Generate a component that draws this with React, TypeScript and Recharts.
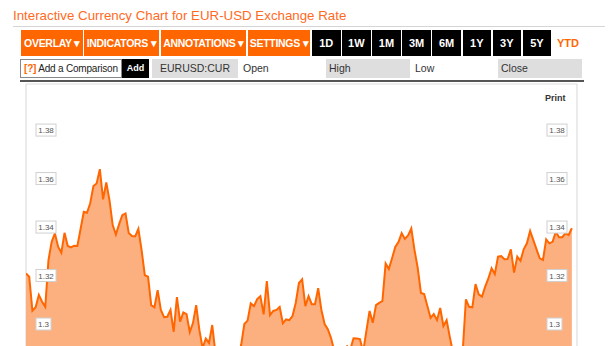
import React from "react";
import { AreaChart, Area, XAxis, YAxis, CartesianGrid, ReferenceLine } from "recharts";

// EUR-USD daily close, YTD (one value per trading day, Jan 1 .. late Aug)
const eurUsd = [
  1.3209, 1.3195, 1.3055, 1.3069, 1.312, 1.3092, 1.3071, 1.3264, 1.3339, 1.3374,
  1.3319, 1.3294, 1.3376, 1.3322, 1.3316, 1.3323, 1.3322, 1.3392, 1.3463, 1.3459,
  1.3498, 1.3569, 1.358, 1.3639, 1.3514, 1.3584, 1.3511, 1.3408, 1.3369, 1.3412,
  1.3449, 1.3456, 1.3375, 1.3363, 1.3361, 1.3392, 1.3305, 1.3202, 1.3195, 1.3078,
  1.3069, 1.314, 1.3058, 1.3028, 1.303, 1.3058, 1.2968, 1.3111, 1.301, 1.3048,
  1.3041, 1.2967, 1.3004, 1.3078, 1.2975, 1.2901, 1.294, 1.2922, 1.2996, 1.288,
  1.2865, 1.285, 1.287, 1.284, 1.282, 1.2845, 1.286, 1.2913, 1.3, 1.3014,
  1.3085, 1.3074, 1.3103, 1.3115, 1.304, 1.3177, 1.3037, 1.3054, 1.3058, 1.307,
  1.3003, 1.3019, 1.3016, 1.3033, 1.3087, 1.3169, 1.3184, 1.3074, 1.3115, 1.3082,
  1.3082, 1.3148, 1.3058, 1.3, 1.2979, 1.2942, 1.289, 1.287, 1.288, 1.2895,
  1.2909, 1.2895, 1.2941, 1.294, 1.2938, 1.2885, 1.2971, 1.3054, 1.3005, 1.3078,
  1.3087, 1.3095, 1.325, 1.3227, 1.3271, 1.3318, 1.3338, 1.3375, 1.3351, 1.3365,
  1.3394, 1.3305, 1.3231, 1.3128, 1.3124, 1.3074, 1.3025, 1.3041, 1.3016, 1.3066,
  1.2992, 1.3016, 1.2946, 1.288, 1.286, 1.287, 1.2885, 1.3102, 1.3071, 1.3069,
  1.3165, 1.3122, 1.3113, 1.3154, 1.3188, 1.323, 1.3206, 1.3278, 1.328, 1.3267,
  1.3268, 1.3308, 1.3212, 1.3278, 1.3261, 1.3308, 1.3333, 1.3384, 1.3346, 1.3308,
  1.3271, 1.3264, 1.3349, 1.3333, 1.3339, 1.3381, 1.3358, 1.3358, 1.3374, 1.3367,
  1.3395,
];

// trading-day index of the first day of Feb..Aug (vertical grid lines)
const monthStarts = [23, 43, 64, 86, 109, 129, 152];
const yTicks = [1.3, 1.32, 1.34, 1.36, 1.38];

const menuButtons = ["OVERLAY", "INDICATORS", "ANNOTATIONS", "SETTINGS"];
const rangeButtons = ["1D", "1W", "1M", "3M", "6M", "1Y", "3Y", "5Y"];
const quoteFields = ["Open", "High", "Low", "Close"];

const rows = eurUsd.map((v, i) => ({ i, v }));

const FONT = '"Liberation Sans", Arial, sans-serif';
const ORANGE = "#ff6600";

// boxed price label, drawn on both sides of the plot
function priceLabel(value: number) {
  const label = String(Number(value.toFixed(2)));
  const w = label.length === 3 ? 15 : 20;
  return (props: any) => {
    const vb = props.viewBox || {};
    const y = vb.y;
    const left = vb.x + 10;
    const right = vb.x + vb.width - 30;
    return (
      <g>
        {[left, right].map((bx) => (
          <g key={bx}>
            <rect x={bx} y={y - 6} width={w} height={12} fill="#fff" stroke="#d0d0d0" strokeWidth={1} />
            <text x={bx + w / 2} y={y + 3} textAnchor="middle" fontSize={8} fill="#555" fontFamily={FONT}>
              {label}
            </text>
          </g>
        ))}
      </g>
    );
  };
}

const menuPos = [
  [21, 62],
  [84, 75],
  [161, 85],
  [248, 62],
];

export default function App() {
  return (
    <div
      style={{
        position: "absolute",
        left: 0,
        top: 0,
        width: 614,
        height: 346,
        overflow: "hidden",
        background: "#fff",
        fontFamily: FONT,
      }}
    >
      <div style={{ position: "absolute", left: 13, top: 8, fontSize: 13.3, color: "#ff6a1f", whiteSpace: "nowrap" }}>
        Interactive Currency Chart for EUR-USD Exchange Rate
      </div>
      <div style={{ position: "absolute", left: 13, top: 26, width: 592, height: 1, background: "#d5d5d5" }} />

      {/* toolbar */}
      {menuButtons.map((b, k) => (
        <div
          key={b}
          style={{
            position: "absolute",
            left: menuPos[k][0],
            top: 30,
            width: menuPos[k][1],
            height: 26,
            lineHeight: "26px",
            background: ORANGE,
            color: "#fff",
            fontWeight: "bold",
            fontSize: 10.5,
            textAlign: "center",
            whiteSpace: "nowrap",
            letterSpacing: -0.3,
          }}
        >
          {b} ▾
        </div>
      ))}
      {rangeButtons.map((b, k) => (
        <div
          key={b}
          style={{
            position: "absolute",
            left: 312 + k * 30.1,
            top: 30,
            width: 28.5,
            height: 26,
            lineHeight: "26px",
            background: "#000",
            color: "#fff",
            fontWeight: "bold",
            fontSize: 11,
            textAlign: "center",
          }}
        >
          {b}
        </div>
      ))}
      <div
        style={{
          position: "absolute",
          left: 557,
          top: 30,
          height: 26,
          lineHeight: "26px",
          color: ORANGE,
          fontWeight: "bold",
          fontSize: 11,
        }}
      >
        YTD
      </div>

      {/* comparison row */}
      <div
        style={{
          position: "absolute",
          left: 20,
          top: 59,
          width: 97,
          height: 17,
          lineHeight: "17px",
          border: "1px solid #888",
          fontSize: 10,
          color: "#222",
          whiteSpace: "nowrap",
          paddingLeft: 3,
          letterSpacing: -0.2,
        }}
      >
        <span style={{ color: ORANGE, fontWeight: "bold" }}>[?]</span> Add a Comparison
      </div>
      <div
        style={{
          position: "absolute",
          left: 122,
          top: 59,
          width: 27,
          height: 19,
          lineHeight: "19px",
          background: "#000",
          color: "#fff",
          fontWeight: "bold",
          fontSize: 9,
          textAlign: "center",
        }}
      >
        Add
      </div>
      <div
        style={{
          position: "absolute",
          left: 152,
          top: 59,
          width: 86,
          height: 19,
          lineHeight: "19px",
          background: "#dedede",
          color: "#333",
          fontSize: 10.5,
          textAlign: "center",
        }}
      >
        EURUSD:CUR
      </div>
      {quoteFields.map((f, k) => (
        <div
          key={f}
          style={{
            position: "absolute",
            left: 240 + k * 86,
            top: 59,
            width: 84,
            height: 19,
            lineHeight: "19px",
            background: k % 2 === 1 ? "#dedede" : "transparent",
            color: "#333",
            fontSize: 10.5,
            paddingLeft: 3,
            boxSizing: "border-box",
          }}
        >
          {f}
        </div>
      ))}
      <div style={{ position: "absolute", left: 20, top: 80, width: 564, height: 2, background: "#555" }} />

      <div style={{ position: "absolute", left: 545, top: 93, fontSize: 9, fontWeight: "bold", color: "#333" }}>
        Print
      </div>

      <div style={{ position: "absolute", left: 0, top: 0 }}>
        <AreaChart width={614} height={430} data={rows} margin={{ top: 84, right: 37, bottom: 9, left: 26 }}>
          <CartesianGrid stroke="#dddddd" strokeWidth={1.2} />
          <XAxis
            type="number"
            dataKey="i"
            domain={[0, 171.6]}
            ticks={monthStarts}
            allowDataOverflow
            tick={false}
            axisLine={false}
            tickLine={false}
            height={0}
          />
          <YAxis
            type="number"
            domain={[1.26, 1.399]}
            ticks={yTicks}
            allowDataOverflow
            width={0}
            axisLine={false}
            tickLine={false}
            tick={false}
          />
          <Area
            type="linear"
            dataKey="v"
            stroke={ORANGE}
            strokeWidth={2}
            fill="#fdb07f"
            fillOpacity={1}
            dot={false}
            activeDot={false}
            isAnimationActive={false}
          />
          {yTicks.map((t) => (
            <ReferenceLine key={t} y={t} stroke="none" label={priceLabel(t)} />
          ))}
        </AreaChart>
      </div>
    </div>
  );
}
